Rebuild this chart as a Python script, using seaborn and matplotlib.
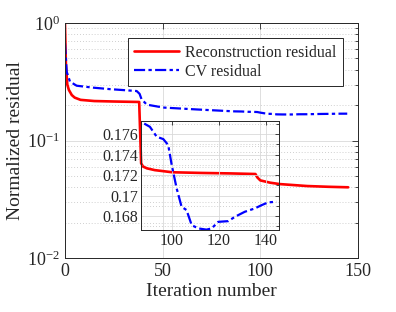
import numpy as np
import pandas as pd
import matplotlib
matplotlib.use("Agg")
import matplotlib.pyplot as plt
import matplotlib.ticker as mticker
import seaborn as sns

# ---- data ----
recon_iter = [0, 0.5, 1.2, 2, 3.5, 5, 8, 15, 25, 38, 39, 40, 42, 46, 55, 70, 85,
              97.5, 98.5, 100, 105, 110, 124, 135, 145]
recon_val = [1.0, 0.44, 0.30, 0.27, 0.244, 0.232, 0.222, 0.217, 0.215, 0.213, 0.064,
             0.060, 0.058, 0.056, 0.0537, 0.053, 0.0525, 0.0519, 0.0485, 0.0458,
             0.0438, 0.0426, 0.041, 0.0404, 0.040]

cv_iter = [0, 0.9, 2.6, 6, 14.5, 23, 36.7, 38.2, 39.2, 41.8, 43.5, 50.3, 67.4, 80,
           86.8, 90.6, 93.5, 96.3, 98.4, 99.9, 102, 104.1, 106.2, 108.4, 111.2,
           114.7, 116.9, 119.7, 124, 126.8, 131, 135.3, 138.2, 141, 144.5]
cv_val = [0.675, 0.385, 0.317, 0.293, 0.282, 0.274, 0.264, 0.25, 0.225, 0.203, 0.200,
          0.191, 0.184, 0.1795, 0.1772, 0.17671, 0.17574, 0.17551, 0.17493, 0.17298,
          0.1707, 0.16891, 0.16859, 0.16712, 0.1668, 0.16668, 0.1668, 0.16744,
          0.16751, 0.16793, 0.16842, 0.16875, 0.16907, 0.16934, 0.1694]

main_xticks = [0, 50, 100, 150]
inset_xticks = [100, 120, 140]
inset_yticks = [0.168, 0.170, 0.172, 0.174, 0.176]
inset_ylabels = ["0.168", "0.17", "0.172", "0.174", "0.176"]
labels = ["Reconstruction residual", "CV residual"]

recon = pd.DataFrame({"it": recon_iter, "val": recon_val})
cv = pd.DataFrame({"it": cv_iter, "val": cv_val})

sns.set_theme(style="white")
plt.rcParams["font.family"] = ["Liberation Serif", "DejaVu Serif"]
plt.rcParams["mathtext.fontset"] = "custom"
plt.rcParams["mathtext.rm"] = "Liberation Serif"
plt.rcParams["mathtext.it"] = "Liberation Serif:italic"
plt.rcParams["mathtext.bf"] = "Liberation Serif:bold"

dark = "#262626"
fig = plt.figure(figsize=(3.96, 3.12), dpi=100)
ax = fig.add_axes([0.164, 0.173, 0.740, 0.753])

sns.lineplot(data=recon, x="it", y="val", ax=ax, color="#ff0000", lw=1.9,
             label=labels[0], estimator=None, sort=False)
sns.lineplot(data=cv, x="it", y="val", ax=ax, color="#0000ff", lw=1.6,
             label=labels[1], estimator=None, sort=False)
ax.lines[1].set_dashes([5, 1.5, 1.5, 1.5])

ax.set_yscale("log")
ax.set_xlim(0, 150)
ax.set_ylim(0.01, 1)
ax.set_xticks(main_xticks)
ax.yaxis.set_major_locator(mticker.LogLocator(base=10, numticks=10))
ax.yaxis.set_minor_locator(mticker.LogLocator(base=10, subs=np.arange(2, 10), numticks=20))
ax.yaxis.set_major_formatter(mticker.LogFormatterSciNotation())
ax.yaxis.set_minor_formatter(mticker.NullFormatter())
ax.set_xlabel("Iteration number", fontsize=14, color=dark, labelpad=2)
ax.set_ylabel("Normalized residual", fontsize=14, color=dark, labelpad=2)
ax.tick_params(which="both", direction="in", top=True, right=True, colors=dark,
               labelsize=13, width=0.6)
ax.tick_params(which="major", length=4)
ax.tick_params(which="minor", length=2.5)
ax.grid(True, which="major", color="#d9d9d9", lw=0.6, ls="-")
ax.grid(True, which="minor", axis="y", color="#c0c0c0", lw=0.6, ls=(0, (1, 2.5)))
for s in ax.spines.values():
    s.set_color(dark)
    s.set_linewidth(0.7)

leg = ax.legend(loc="upper right", bbox_to_anchor=(0.949, 0.936), fontsize=11.5,
                frameon=True, fancybox=False, edgecolor=dark, framealpha=1,
                handlelength=2.8, borderpad=0.4, labelspacing=0.2,
                handletextpad=0.4, borderaxespad=0)
leg.get_frame().set_linewidth(0.7)

# ---- inset ----
ins = fig.add_axes([0.356, 0.263, 0.348, 0.349])
ins.set_facecolor("none")
sns.lineplot(data=cv, x="it", y="val", ax=ins, color="#0000ff", lw=1.6,
             estimator=None, sort=False, legend=False)
ins.lines[0].set_dashes([5, 1.5, 1.5, 1.5])
ins.set_xlim(86.8, 145.5)
ins.set_ylim(0.16665, 0.17727)
ins.set_xticks(inset_xticks)
ins.set_yticks(inset_yticks)
ins.set_yticklabels(inset_ylabels)
ins.yaxis.set_minor_locator(mticker.MultipleLocator(0.001))
ins.set_xlabel("")
ins.set_ylabel("")
ins.tick_params(which="both", direction="in", top=True, right=True, colors=dark,
                labelsize=11.5, width=0.6, pad=2)
ins.tick_params(which="major", length=3)
ins.tick_params(which="minor", length=2)
ins.grid(True, which="major", color="#d9d9d9", lw=0.6, ls="-")
ins.grid(True, which="minor", axis="y", color="#c0c0c0", lw=0.6, ls=(0, (1, 2.5)))
for s in ins.spines.values():
    s.set_color(dark)
    s.set_linewidth(0.7)

fig.savefig("out.png", dpi=100)
